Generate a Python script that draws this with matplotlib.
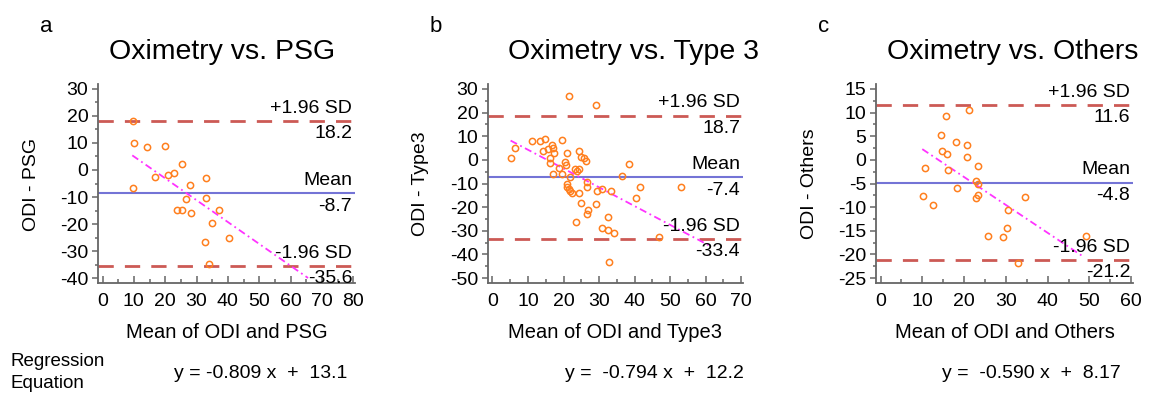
import matplotlib
matplotlib.use("Agg")
import matplotlib.pyplot as plt
from matplotlib.ticker import MultipleLocator
import numpy as np

plt.rcParams['font.family'] = ['Liberation Sans', 'DejaVu Sans']
plt.rcParams['axes.unicode_minus'] = False

# Panel a: Oximetry vs. PSG
psg_mean = [9.6, 10.1, 14.3, 19.8, 16.9, 21.0, 22.8, 25.3, 9.7, 28.0, 26.8,
            33.1, 33.0, 23.7, 25.4, 28.2, 37.2, 35.1, 32.6, 40.4, 34.0]
psg_diff = [18.3, 10.1, 8.4, 9.0, -2.7, -1.7, -1.1, 2.3, -6.5, -5.4, -10.6,
            -3.0, -10.2, -14.8, -14.8, -15.9, -14.8, -19.5, -26.8, -25.3, -34.9]

# Panel b: Oximetry vs. Type 3
type3_mean = [21.6, 29.1, 5.1, 6.3, 11.0, 13.4, 14.9, 14.2, 15.5, 16.7, 17.1,
              17.4, 16.2, 16.3, 19.6, 21.0, 20.3, 20.8, 18.7, 19.7, 16.9, 21.7,
              20.9, 21.1, 21.6, 21.9, 22.4, 24.3, 24.8, 25.7, 26.2, 23.2, 24.4,
              23.8, 24.3, 24.8, 23.6, 26.5, 26.7, 26.8, 26.5, 29.2, 29.3, 30.7,
              33.3, 32.5, 30.9, 32.5, 34.2, 32.7, 36.5, 38.4, 41.4, 40.5, 47.0,
              53.0]
type3_diff = [27.2, 23.0, 0.6, 5.2, 7.9, 8.1, 9.0, 3.8, 4.6, 6.4, 5.2,
              3.0, 0.6, -1.2, 8.6, 2.7, -0.8, -2.2, -3.6, -6.0, -6.1, -7.3,
              -10.0, -11.3, -12.2, -13.1, -14.2, 3.7, 1.4, 0.9, -0.6, -4.0, -4.0,
              -4.7, -14.0, -18.3, -26.2, -9.3, -11.4, -21.3, -22.9, -18.8, -13.0, -12.5,
              -13.2, -24.1, -29.0, -29.7, -31.1, -43.3, -7.0, -1.6, -11.5, -16.3, -32.7,
              -11.5]

# Panel c: Oximetry vs. Others
others_mean = [15.6, 21.2, 14.5, 18.0, 20.6, 14.8, 15.9, 20.6, 10.7, 16.2, 23.4,
               18.3, 22.9, 23.4, 10.1, 22.8, 23.4, 12.6, 34.5, 30.6, 30.3, 25.8,
               29.3, 32.8, 49.2]
others_diff = [9.3, 10.5, 5.2, 3.8, 3.1, 1.9, 1.2, 0.7, -1.7, -2.1, -1.4,
               -5.9, -4.5, -5.1, -7.7, -8.0, -7.5, -9.6, -7.8, -10.6, -14.5, -16.2,
               -16.3, -21.8, -16.1]

panels = [
    dict(letter='a', title='Oximetry vs. PSG', ylabel='ODI - PSG',
         xlabel='Mean of ODI and PSG', x=psg_mean, y=psg_diff,
         upper=18.2, mean=-8.7, lower=-35.6, slope=-0.809, intercept=13.1,
         eq='y = -0.809 x  +  13.1', reg_x=[9.5, 65.6],
         xticks=(0, 80, 10), yticks=(-40, 30, 10),
         box=(98, 355), title_x=222, eq_x=261),
    dict(letter='b', title='Oximetry vs. Type 3', ylabel='ODI - Type3',
         xlabel='Mean of ODI and Type3', x=type3_mean, y=type3_diff,
         upper=18.7, mean=-7.4, lower=-33.4, slope=-0.794, intercept=12.2,
         eq='y =  -0.794 x  +  12.2', reg_x=[5.1, 61.5],
         xticks=(0, 70, 10), yticks=(-50, 30, 10),
         box=(488, 743), title_x=634, eq_x=654),
    dict(letter='c', title='Oximetry vs. Others', ylabel='ODI - Others',
         xlabel='Mean of ODI and Others', x=others_mean, y=others_diff,
         upper=11.6, mean=-4.8, lower=-21.2, slope=-0.590, intercept=8.17,
         eq='y =  -0.590 x  +  8.17', reg_x=[10.0, 48.8],
         xticks=(0, 60, 10), yticks=(-25, 15, 5),
         box=(876, 1133), title_x=1013, eq_x=1031),
]

W, H = 1151, 394
fig = plt.figure(figsize=(W / 100, H / 100), dpi=100)

top_px, bot_px = 84, 283
spine_col = '#666666'
for p in panels:
    L, R = p['box']
    ax = fig.add_axes([L / W, 1 - bot_px / H, (R - L) / W, (bot_px - top_px) / H])
    x0, x1, xs = p['xticks']
    y0, y1, ys = p['yticks']
    # small margins so the first tick sits just inside the spine
    xpad = (x1 - x0) * 0.018
    ypad = (y1 - y0) * 0.026
    ax.set_xlim(x0 - xpad, x1 + xpad * 0.4)
    ax.set_ylim(y0 - ypad, y1 + ypad)

    ax.axhline(p['upper'], color='#cc5a55', lw=2, dashes=(5.5, 4))
    ax.axhline(p['lower'], color='#cc5a55', lw=2, dashes=(5.5, 4))
    ax.axhline(p['mean'], color='#7474d6', lw=1.5)

    rx = np.array(p['reg_x'])
    ax.plot(rx, p['slope'] * rx + p['intercept'], color='#ff33ff', lw=1.3,
            dashes=(4, 2, 1, 2))

    ax.plot(p['x'], p['y'], 'o', ms=4.5, mfc='none', mec='#ff7f1e', mew=1.1)

    for val, lab in [(p['upper'], '+1.96 SD'), (p['mean'], 'Mean'),
                     (p['lower'], '-1.96 SD')]:
        ax.annotate(lab, (1, val), xycoords=('axes fraction', 'data'),
                    xytext=(-2, 3), textcoords='offset points',
                    ha='right', va='bottom', fontsize=14)
        ax.annotate(f'{val:.1f}', (1, val), xycoords=('axes fraction', 'data'),
                    xytext=(-2, -3), textcoords='offset points',
                    ha='right', va='top', fontsize=14)

    ax.set_xticks(np.arange(x0, x1 + 0.1, xs))
    ax.set_yticks(np.arange(y0, y1 + 0.1, ys))
    ax.xaxis.set_minor_locator(MultipleLocator(xs / 2))
    ax.yaxis.set_minor_locator(MultipleLocator(ys / 2))

    for s in ['top', 'right']:
        ax.spines[s].set_visible(False)
    for s in ['left', 'bottom']:
        ax.spines[s].set_color(spine_col)
        ax.spines[s].set_linewidth(1.3)
    ax.tick_params(axis='x', which='both', direction='in', colors=spine_col,
                   labelcolor='black', labelsize=14, pad=7)
    ax.tick_params(axis='x', which='major', length=5, width=1.1)
    ax.tick_params(axis='x', which='minor', length=3, width=1.1)
    ax.tick_params(axis='y', which='both', direction='out', colors=spine_col,
                   labelcolor='black', labelsize=14, pad=3)
    ax.tick_params(axis='y', which='major', length=4, width=1.1)
    ax.tick_params(axis='y', which='minor', length=2.5, width=1.1)

    fig.text(p['title_x'] / W, 1 - 52 / H, p['title'], ha='center', va='center',
             fontsize=20.5)
    fig.text((L - 58) / W, 1 - 26 / H, p['letter'], ha='left', va='center',
             fontsize=16)
    fig.text((L - 67) / W, 1 - 184 / H, p['ylabel'], rotation=90,
             ha='center', va='center', fontsize=14)
    fig.text((L + R) / 2 / W, 1 - 333 / H, p['xlabel'], ha='center',
             va='center', fontsize=14.5)
    fig.text(p['eq_x'] / W, 1 - 373 / H, p['eq'], ha='center', va='center',
             fontsize=14)

fig.text(10 / W, 1 - 362 / H, 'Regression', ha='left', va='center', fontsize=13.5)
fig.text(10 / W, 1 - 384 / H, 'Equation', ha='left', va='center', fontsize=13.5)

fig.savefig('out.png', dpi=100)
